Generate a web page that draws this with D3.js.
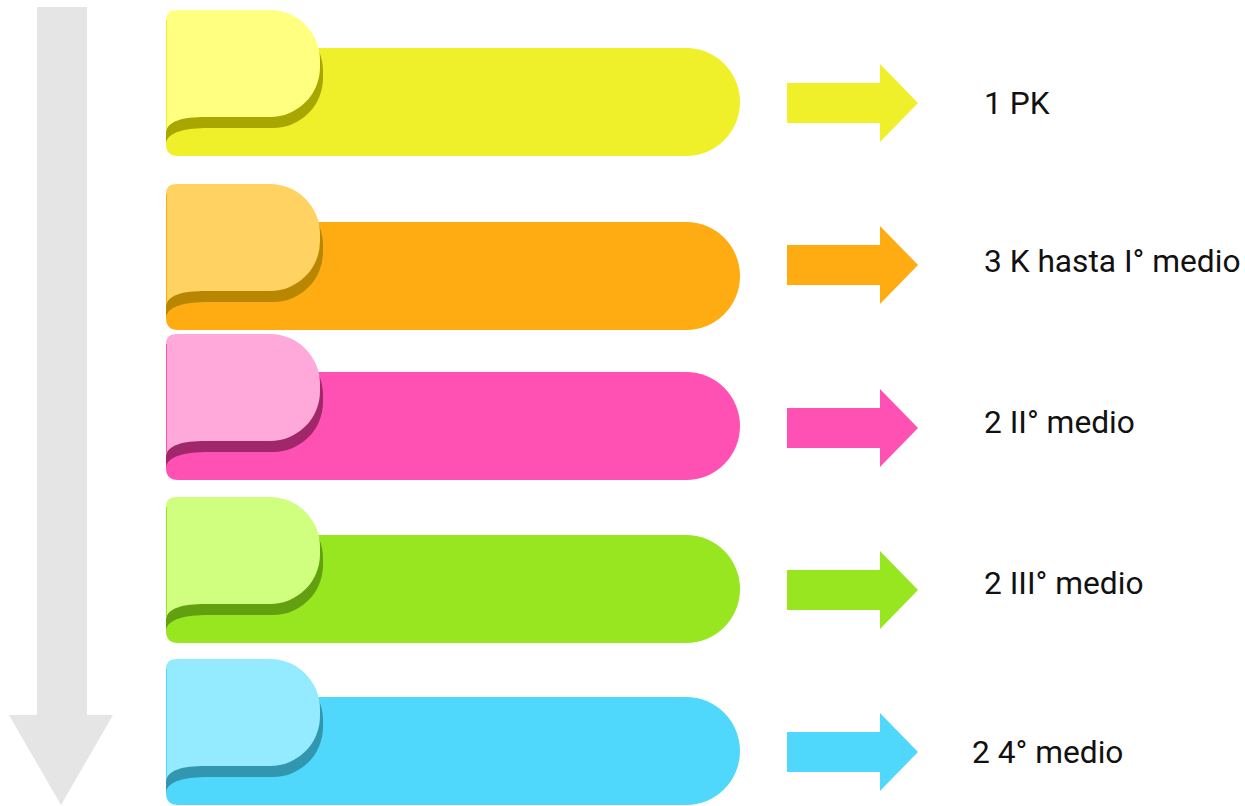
<!DOCTYPE html>
<html>
<head>
<meta charset="utf-8">
<script src="https://cdn.jsdelivr.net/npm/d3@7"></script>
<style>
html,body{margin:0;padding:0;background:#fff;}
svg{display:block;}
</style>
</head>
<body>
<svg id="chart" width="1245" height="806"></svg>
<script>
// ---- data ----
const counts = [1, 3, 2, 2, 2];
const grades = ["PK", "K hasta I° medio", "II° medio", "III° medio", "4° medio"];
const mainColors  = ["#f0f02a", "#ffab12", "#ff50b4", "#98e620", "#50d8fc"];
const lightColors = ["#ffff80", "#ffd262", "#ffa8da", "#d0ff80", "#94eafe"];
const darkColors  = ["#a8a600", "#b88600", "#a0286a", "#62a010", "#3296b0"];

// ---- layout (not data) ----
const tabTop = [10, 184, 334, 497, 659];
const arrowY = [103, 265, 428, 590, 752];
const textY  = [103, 261, 422, 583, 752];
const textX  = [984, 984, 984, 984, 972];

const svg = d3.select("#chart");
const rows = counts.map((c, i) => ({c, g: grades[i], i}));

// big grey arrow
const bg = d3.path();
bg.moveTo(37, 7); bg.lineTo(87, 7); bg.lineTo(87, 715); bg.lineTo(113, 715);
bg.lineTo(61, 805); bg.lineTo(9, 715); bg.lineTo(37, 715); bg.closePath();
svg.append("path").attr("d", bg.toString()).attr("fill", "#e5e5e5");

const x0 = 166, x1 = 320, rt = 50, tabH = 107;

function tabPath(t, dx, dy) {
  const top = t + dy, bot = t + tabH + dy, xr = x1 + dx;
  const p = d3.path();
  p.moveTo(x0, top + 10);
  p.quadraticCurveTo(x0, top, x0 + 10, top);
  p.lineTo(xr - rt, top);
  p.arcTo(xr, top, xr, top + rt, rt);
  p.lineTo(xr, bot - rt);
  p.arcTo(xr, bot, xr - rt, bot, rt);
  p.lineTo(x0 + 40 + dx, bot);
  p.bezierCurveTo(x0 + 16 + dx, bot, x0 + 2, bot + 4, x0, bot + 15);
  p.closePath();
  return p.toString();
}
function mainPath(t) {
  const top = t + 38, bot = t + 146, r = (bot - top) / 2, xe = 740;
  const p = d3.path();
  p.moveTo(x0, top);
  p.lineTo(xe - r, top);
  p.arc(xe - r, top + r, r, -Math.PI / 2, Math.PI / 2, false);
  p.lineTo(x0 + 12, bot);
  p.quadraticCurveTo(x0, bot, x0, bot - 12);
  p.closePath();
  return p.toString();
}

const defs = svg.append("defs");
rows.forEach(d => {
  defs.append("clipPath").attr("id", "clip" + d.i)
    .append("path").attr("d", mainPath(tabTop[d.i]));
});

const g = svg.selectAll("g.row").data(rows).join("g").attr("class", "row");

g.append("path").attr("d", d => mainPath(tabTop[d.i])).attr("fill", d => mainColors[d.i]);
g.append("path").attr("d", d => tabPath(tabTop[d.i], 3, 11))
  .attr("fill", d => darkColors[d.i]).attr("clip-path", d => `url(#clip${d.i})`);
g.append("path").attr("d", d => tabPath(tabTop[d.i], 0, 0))
  .attr("fill", d => lightColors[d.i]);
g.append("line")
  .attr("x1", x0 + 0.5).attr("x2", x0 + 0.5)
  .attr("y1", d => tabTop[d.i] + 10).attr("y2", d => tabTop[d.i] + tabH + 12)
  .attr("stroke", d => mainColors[d.i]).attr("stroke-width", 1);

// small arrows
g.append("path").attr("d", d => {
  const c = arrowY[d.i];
  const p = d3.path();
  p.moveTo(787, c - 20); p.lineTo(880, c - 20); p.lineTo(880, c - 39);
  p.lineTo(918, c); p.lineTo(880, c + 39); p.lineTo(880, c + 20);
  p.lineTo(787, c + 20); p.closePath();
  return p.toString();
}).attr("fill", d => mainColors[d.i]);

g.append("text")
  .attr("x", d => textX[d.i]).attr("y", d => textY[d.i])
  .attr("dy", "0.36em")
  .attr("font-family", "Roboto, sans-serif").attr("font-size", 31.7)
  .attr("fill", "#111")
  .text(d => `${d.c} ${d.g}`);
</script>
</body>
</html>
